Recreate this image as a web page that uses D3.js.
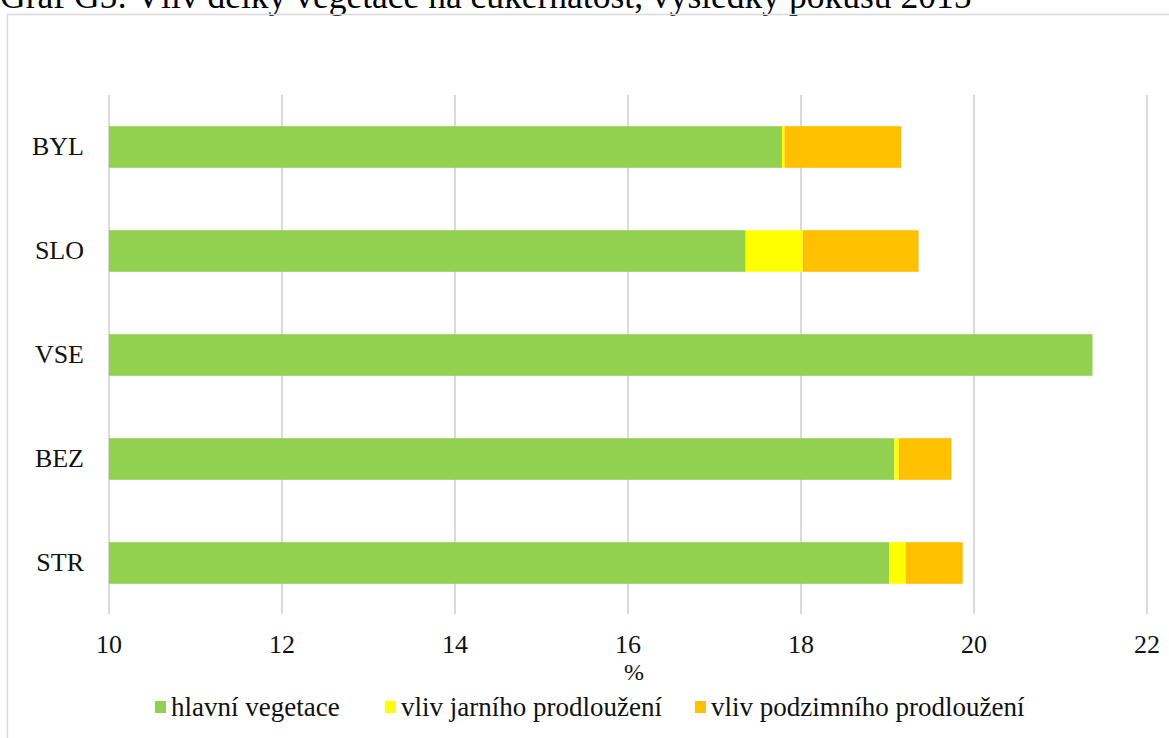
<!DOCTYPE html>
<html>
<head>
<meta charset="utf-8">
<script src="https://cdn.jsdelivr.net/npm/d3@7"></script>
<style>
    body { margin: 0; background: #fff; }
</style>
</head>
<body>
<svg id="chart"></svg>
<script>
// categories top to bottom
const categories = ['BYL', 'SLO', 'VSE', 'BEZ', 'STR']
// sugar content (%) of main vegetation, plus increments from extended seasons
const hlavni = [17.78, 17.36, 21.37, 19.08, 19.02]
const jarni = [0.03, 0.66, 0, 0.05, 0.19]
const podzimni = [1.35, 1.34, 0, 0.61, 0.66]
const xTicks = [10, 12, 14, 16, 18, 20, 22]

const seriesNames = ['hlavní vegetace', 'vliv jarního prodloužení', 'vliv podzimního prodloužení']
const colors = ['#92D050', '#FFFF00', '#FFC000']

const W = 1169, H = 738
const FONT = "'Liberation Serif', Tinos, 'Times New Roman', 'DejaVu Serif', serif"

const rows = categories.map(function (c, i) {
    return { cat: c, s0: hlavni[i], s1: jarni[i], s2: podzimni[i] }
})

var svg = d3.select('#chart')
            .attr('width', W)
            .attr('height', H)
            .attr('font-family', FONT)

// title (cut at the top in the original)
svg.append('text')
   .attr('x', 0).attr('y', 8)
   .attr('font-family', FONT)
   .attr('font-size', 35.5)
   .attr('fill', '#000')
   .text('Graf G5: Vliv délky vegetace na cukernatost, výsledky pokusu 2015')

// chart frame
svg.append('rect')
   .attr('x', 7.5).attr('y', 14.5)
   .attr('width', 1200).attr('height', 800)
   .attr('fill', 'none')
   .attr('stroke', '#D9D9D9')
   .attr('stroke-width', 1.5)

var x = d3.scaleLinear().domain([10, 22]).range([109, 1147]).clamp(true)
var y = d3.scaleBand().domain(categories).range([95, 615])
          .paddingInner(0.6).paddingOuter(0.3)

// gridlines
svg.append('g').selectAll('line')
   .data(xTicks)
   .enter().append('line')
   .attr('x1', d => x(d)).attr('x2', d => x(d))
   .attr('y1', 95).attr('y2', 614)
   .attr('stroke', '#D9D9D9')
   .attr('stroke-width', 2)

var stack = d3.stack().keys(['s0', 's1', 's2'])
var layers = stack(rows)

svg.append('g').selectAll('g')
   .data(layers)
   .enter().append('g')
   .attr('fill', (d, i) => colors[i])
   .selectAll('rect')
   .data(d => d)
   .enter().append('rect')
   .attr('x', d => x(d[0]))
   .attr('y', d => y(d.data.cat))
   .attr('width', d => Math.max(0, x(d[1]) - x(d[0])))
   .attr('height', y.bandwidth())

// x tick labels
svg.append('g').selectAll('text')
   .data(xTicks)
   .enter().append('text')
   .attr('x', d => x(d))
   .attr('y', 653)
   .attr('text-anchor', 'middle')
   .attr('font-family', FONT)
   .attr('font-size', 26)
   .attr('fill', '#111')
   .text(d => d)

// category labels
svg.append('g').selectAll('text')
   .data(categories)
   .enter().append('text')
   .attr('x', 84)
   .attr('y', d => y(d) + y.bandwidth() / 2 + 8)
   .attr('text-anchor', 'end')
   .attr('font-family', FONT)
   .attr('font-size', 26)
   .attr('fill', '#111')
   .text(d => d)

// axis title
svg.append('text')
   .attr('x', 634).attr('y', 680)
   .attr('text-anchor', 'middle')
   .attr('font-family', FONT)
   .attr('font-size', 24)
   .attr('fill', '#111')
   .text('%')

// legend
var legendX = [155, 385, 695]
var legend = svg.append('g').selectAll('g')
                .data(seriesNames)
                .enter().append('g')
                .attr('transform', (d, i) => `translate(${legendX[i]}, 701)`)
legend.append('rect')
      .attr('width', 11).attr('height', 12)
      .attr('fill', (d, i) => colors[i])
legend.append('text')
      .attr('x', 16).attr('y', 15)
      .attr('font-family', FONT)
      .attr('font-size', 27)
      .attr('fill', '#111')
      .text(d => d)
</script>
</body>
</html>
